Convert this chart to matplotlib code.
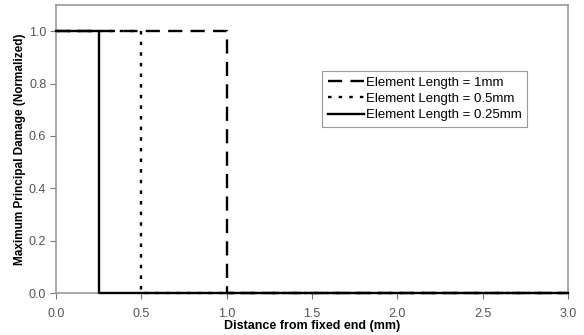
import matplotlib
matplotlib.use("Agg")
import matplotlib.pyplot as plt

plt.rcParams['font.family'] = ['Liberation Sans', 'DejaVu Sans']

# veriler
x_1mm = [0, 1.0, 1.0, 3.0]
y_1mm = [1.0, 1.0, 0.0, 0.0]
x_05mm = [0, 0.5, 0.5, 3.0]
y_05mm = [1.0, 1.0, 0.0, 0.0]
x_025mm = [0, 0.25, 0.25, 3.0]
y_025mm = [1.0, 1.0, 0.0, 0.0]
labels = ["Element Length = 1mm", "Element Length = 0.5mm", "Element Length = 0.25mm"]
xticks = [0.0, 0.5, 1.0, 1.5, 2.0, 2.5, 3.0]
yticks = [0.0, 0.2, 0.4, 0.6, 0.8, 1.0]

fig = plt.figure(figsize=(5.84, 3.35), dpi=100)
ax = fig.add_axes([56 / 584, 1 - 293 / 335, 512 / 584, 288 / 335])

ax.plot(x_1mm, y_1mm, color='black', lw=1.7, dashes=(6, 3.5), label=labels[0], clip_on=False)
ax.plot(x_05mm, y_05mm, color='black', lw=1.7, dashes=(1.5, 3), label=labels[1], clip_on=False)
ax.plot(x_025mm, y_025mm, color='black', lw=1.7, label=labels[2], clip_on=False, zorder=3)

ax.set_xlim(0, 3.0)
ax.set_ylim(0, 1.1)
ax.set_xticks(xticks)
ax.set_yticks(yticks)
ax.set_xticklabels([f"{v:.1f}" for v in xticks])
ax.set_yticklabels([f"{v:.1f}" for v in yticks])
ax.tick_params(colors='#777777', labelsize=9, length=4, width=0.8, labelcolor='#555555')
ax.tick_params(axis='x', pad=7)
ax.tick_params(axis='y', pad=3)

for s in ax.spines.values():
    s.set_color('#999999')
    s.set_linewidth(1.2)

ax.set_xlabel("Distance from fixed end (mm)", fontsize=9, fontweight='bold', labelpad=0)
ax.set_ylabel("Maximum Principal Damage (Normalized)", fontsize=8.5, fontweight='bold', labelpad=2)

leg = ax.legend(loc='upper left', bbox_to_anchor=(259 / 512, 1 - 59 / 288), fontsize=9.5,
                handlelength=2.8, handletextpad=0.1, borderpad=0.45, labelspacing=0.3,
                fancybox=False, framealpha=1, edgecolor='#999999')
leg.get_frame().set_linewidth(0.8)

fig.savefig("out.png", dpi=100)
